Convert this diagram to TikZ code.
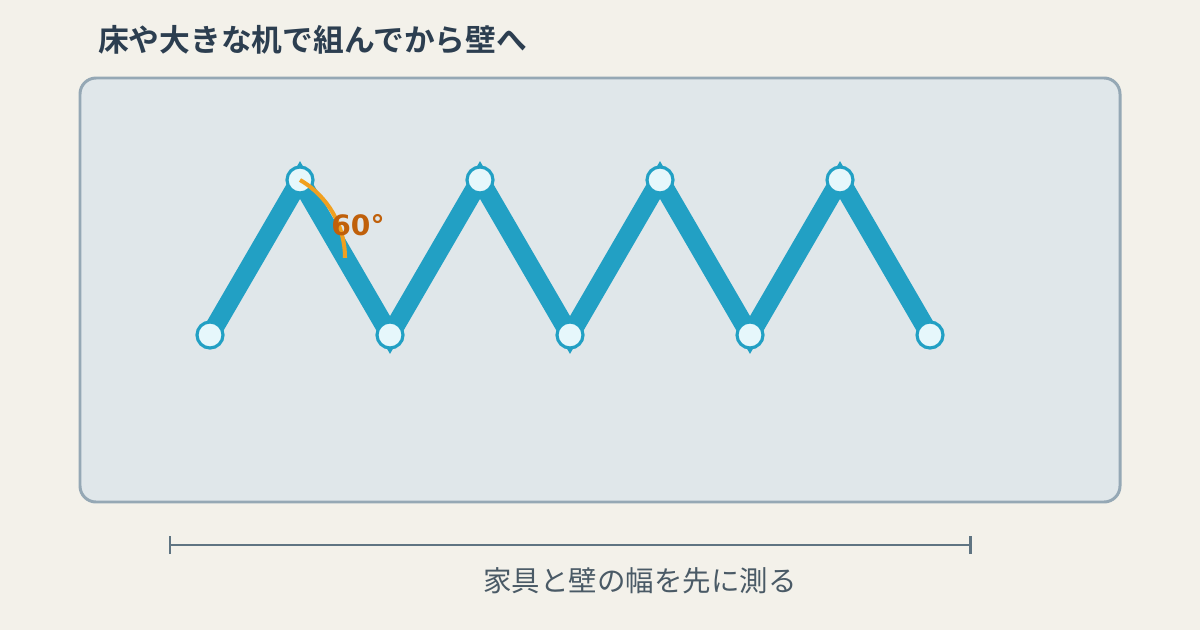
\documentclass[tikz,border=0pt]{standalone}
\usepackage{fontspec}
\setmainfont{DejaVu Sans}
\newfontfamily\jpfont{Noto Sans CJK JP}
\newfontfamily\jpbold{Noto Sans CJK JP Bold}
\usepackage{tikz}
\usetikzlibrary{calc}

\definecolor{bgcol}{HTML}{F3F1EA}
\definecolor{panelfill}{HTML}{E0E7EA}
\definecolor{panelline}{HTML}{95A8B5}
\definecolor{zigcol}{HTML}{22A0C4}
\definecolor{jointfill}{HTML}{E6F7FB}
\definecolor{arccol}{HTML}{F0A020}
\definecolor{anglecol}{HTML}{C0600A}
\definecolor{titlecol}{HTML}{2C3E50}
\definecolor{rulecol}{HTML}{5F7482}
\definecolor{notecol}{HTML}{4A5A66}

\tikzset{
	panel/.style = {draw = panelline, fill = panelfill, line width = 1.7pt, rounded corners = .32cm},
	zig/.style = {draw = zigcol, line width = 10.8pt},
	joint/.style = {circle, draw = zigcol, fill = jointfill, line width = 1.8pt, minimum size = .52cm, inner sep = 0pt},
	anglearc/.style = {draw = arccol, line width = 2.3pt},
	rulebar/.style = {draw = rulecol, line width = 1.7pt}
}

\begin{document}
\begin{tikzpicture}[x = .02cm, y = .02cm]
	\useasboundingbox (0,0) rectangle (1200,630);
	\fill[bgcol] (0,0) rectangle (1200,630);
	\node[anchor = west, text = titlecol, font = \jpbold\fontsize{17.5}{20}\selectfont] (title) at (92,590) {床や大きな机で組んでから壁へ};
	\draw[panel] (80,128) rectangle (1120,552);
	% zigzag
	\foreach \i in {0,...,8}{
		\pgfmathsetmacro\yy{mod(\i,2)==1 ? 450 : 295}
		\coordinate (p\i) at ({210+90*\i},\yy);
	}
	\draw[zig] (p0) \foreach \i in {1,...,8}{ -- (p\i) };
	\foreach \i in {0,...,8}
		\node[joint] (j\i) at (p\i) {};
	\draw[anglearc] (p1) arc (60:0:90);
	\node[text = anglecol, font = \bfseries\fontsize{16}{18}\selectfont] (ang) at (358,405) {60°};
	% width to measure
	\coordinate (ml) at (170,85);
	\coordinate (mr) at (970,85);
	\draw[rulebar] (ml) -- (mr);
	\draw[rulebar] ($(ml)+(0,-9)$) -- ($(ml)+(0,9)$);
	\draw[rulebar] ($(mr)+(0,-9)$) -- ($(mr)+(0,9)$);
	\node[text = notecol, font = \jpfont\fontsize{16.2}{18}\selectfont] (note) at (640,49) {家具と壁の幅を先に測る};
\end{tikzpicture}
\end{document}
